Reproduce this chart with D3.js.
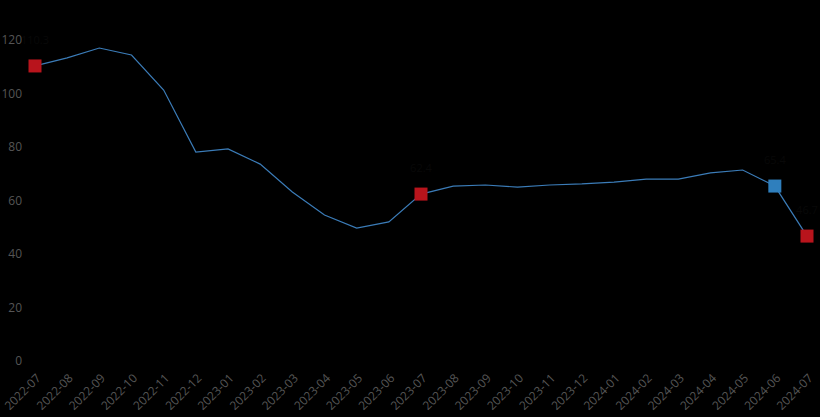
<!DOCTYPE html>
<html><head><meta charset="utf-8">
<script src="https://cdn.jsdelivr.net/npm/d3@7"></script>
<style>html,body{margin:0;padding:0;background:#000;}svg{display:block;}</style>
</head><body>
<svg id="chart" width="820" height="417"></svg>
<script>
const months = ["2022-07","2022-08","2022-09","2022-10","2022-11","2022-12","2023-01","2023-02","2023-03","2023-04","2023-05","2023-06","2023-07","2023-08","2023-09","2023-10","2023-11","2023-12","2024-01","2024-02","2024-03","2024-04","2024-05","2024-06","2024-07"];
const values = [110.3,113.3,117.0,114.4,101.3,78.1,79.3,73.6,63.2,54.6,49.7,52.0,62.4,65.4,65.8,65.0,65.8,66.2,66.9,68.0,68.0,70.3,71.4,65.4,46.7];
const redMarkers = ["2022-07","2023-07","2024-07"];
const blueMarkers = ["2024-06"];
const yTicks = [0,20,40,60,80,100,120];

const svg = d3.select("#chart");
const x = d3.scalePoint().domain(months).range([35,807]);
const y = d3.scaleLinear().domain([0,120]).range([361,40]);

const font = "'Open Sans', 'Noto Sans', sans-serif";

const yAxis = svg.append("g").attr("transform","translate(22,0)")
  .call(d3.axisLeft(y).tickValues(yTicks).tickSize(0).tickPadding(0));
yAxis.select(".domain").remove();
yAxis.selectAll("text").attr("fill","#555").style("font-family",font).style("font-size","12px");

const xAxis = svg.append("g").attr("transform","translate(0,370)")
  .call(d3.axisBottom(x).tickSize(0).tickPadding(0));
xAxis.select(".domain").remove();
xAxis.selectAll("text")
  .attr("fill","#555").style("font-family",font).style("font-size","12px")
  .attr("text-anchor","end").attr("dy","0").attr("y",0).attr("x",0)
  .attr("transform","translate(6,9) rotate(-45)");

const data = months.map((m,i)=>({m, v: values[i]}));
svg.append("path").datum(data)
  .attr("fill","none").attr("stroke","#3b7cb8").attr("stroke-width",1.2)
  .attr("d", d3.line().x(d=>x(d.m)).y(d=>y(d.v)));

const s = 13;
const markerData = data.filter(d=>redMarkers.includes(d.m)||blueMarkers.includes(d.m));
svg.selectAll("rect.mk").data(markerData).enter().append("rect")
  .attr("class","mk")
  .attr("x",d=>x(d.m)-s/2).attr("y",d=>y(d.v)-s/2)
  .attr("width",s).attr("height",s)
  .attr("fill",d=>redMarkers.includes(d.m)?"#b8141c":"#2f7fbd");

svg.selectAll("text.vl").data(markerData).enter().append("text")
  .attr("class","vl")
  .attr("x",d=>x(d.m)).attr("y",d=>y(d.v)-22)
  .attr("text-anchor","middle").attr("fill","#080808")
  .style("font-family",font).style("font-size","11px")
  .text(d=>d.v.toFixed(1));
</script>
</body></html>
